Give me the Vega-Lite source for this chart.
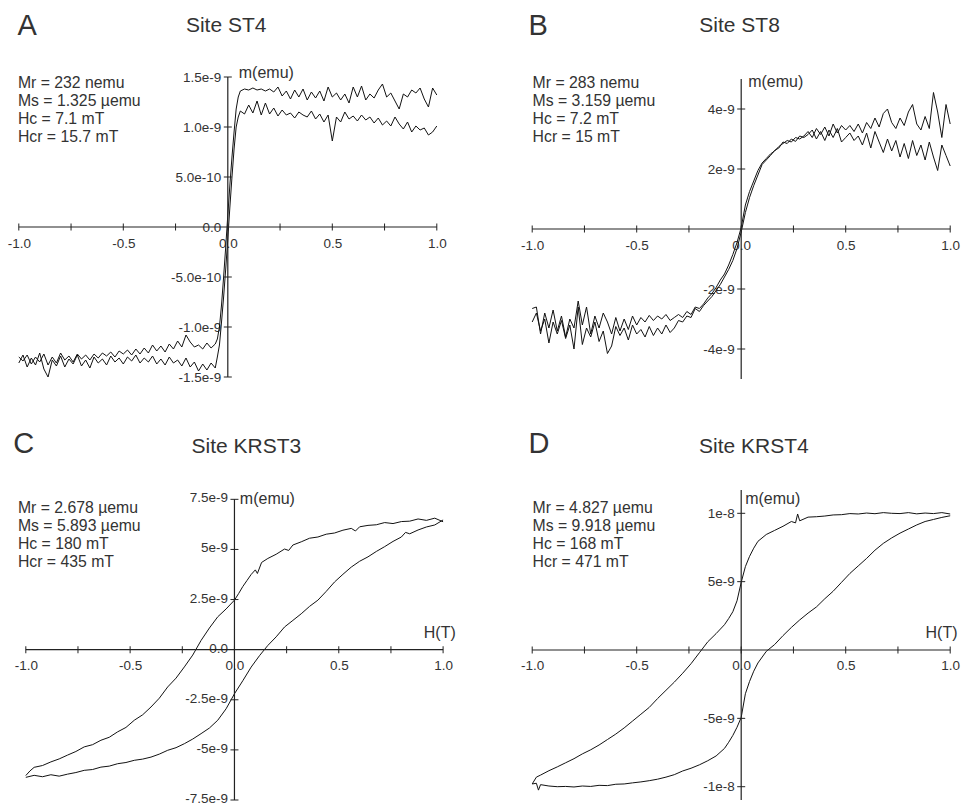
{
"$schema": "https://vega.github.io/schema/vega-lite/v6.json",
"background": "white",
"padding": {"left": 6.8, "top": 12, "right": 5, "bottom": 2},
"config": {
 "view": {"stroke": null},
 "locale": {"number": {"decimal": ".", "thousands": ",", "grouping": [3], "currency": ["$", ""], "minus": "-"}},
 "axis": {"grid": false, "domain": false, "ticks": false, "tickSize": 0, "labelFont": "Liberation Sans", "labelFontSize": 13.5, "labelColor": "#333", "labelFlush": false, "labelOverlap": false, "labelBound": false},
 "text": {"font": "Liberation Sans", "color": "#333"}
},
"datasets": {
 "A": [
{"b":"d","h":-1.00,"m":-1.30e-9},{"b":"d","h":-0.98,"m":-1.34e-9},{"b":"d","h":-0.96,"m":-1.28e-9},{"b":"d","h":-0.94,"m":-1.37e-9},{"b":"d","h":-0.92,"m":-1.30e-9},{"b":"d","h":-0.90,"m":-1.35e-9},{"b":"d","h":-0.88,"m":-1.27e-9},{"b":"d","h":-0.86,"m":-1.38e-9},{"b":"d","h":-0.84,"m":-1.30e-9},{"b":"d","h":-0.82,"m":-1.36e-9},{"b":"d","h":-0.80,"m":-1.26e-9},{"b":"d","h":-0.78,"m":-1.33e-9},{"b":"d","h":-0.76,"m":-1.29e-9},{"b":"d","h":-0.74,"m":-1.35e-9},{"b":"d","h":-0.72,"m":-1.27e-9},{"b":"d","h":-0.70,"m":-1.32e-9},{"b":"d","h":-0.68,"m":-1.28e-9},{"b":"d","h":-0.66,"m":-1.33e-9},{"b":"d","h":-0.64,"m":-1.27e-9},{"b":"d","h":-0.62,"m":-1.31e-9},{"b":"d","h":-0.60,"m":-1.26e-9},{"b":"d","h":-0.58,"m":-1.29e-9},{"b":"d","h":-0.56,"m":-1.25e-9},{"b":"d","h":-0.54,"m":-1.30e-9},{"b":"d","h":-0.52,"m":-1.24e-9},{"b":"d","h":-0.50,"m":-1.27e-9},{"b":"d","h":-0.48,"m":-1.23e-9},{"b":"d","h":-0.46,"m":-1.28e-9},{"b":"d","h":-0.44,"m":-1.22e-9},{"b":"d","h":-0.42,"m":-1.27e-9},{"b":"d","h":-0.40,"m":-1.21e-9},{"b":"d","h":-0.38,"m":-1.26e-9},{"b":"d","h":-0.36,"m":-1.18e-9},{"b":"d","h":-0.34,"m":-1.24e-9},{"b":"d","h":-0.32,"m":-1.19e-9},{"b":"d","h":-0.30,"m":-1.25e-9},{"b":"d","h":-0.28,"m":-1.17e-9},{"b":"d","h":-0.26,"m":-1.22e-9},{"b":"d","h":-0.24,"m":-1.14e-9},{"b":"d","h":-0.22,"m":-1.20e-9},{"b":"d","h":-0.20,"m":-1.08e-9},{"b":"d","h":-0.18,"m":-1.15e-9},{"b":"d","h":-0.16,"m":-1.20e-9},{"b":"d","h":-0.14,"m":-1.18e-9},{"b":"d","h":-0.12,"m":-1.22e-9},{"b":"d","h":-0.10,"m":-1.16e-9},{"b":"d","h":-0.08,"m":-1.21e-9},{"b":"d","h":-0.06,"m":-1.17e-9},{"b":"d","h":-0.05,"m":-1.12e-9},{"b":"d","h":-0.04,"m":-1.00e-9},{"b":"d","h":-0.03,"m":-0.78e-9},{"b":"d","h":-0.02,"m":-0.50e-9},{"b":"d","h":-0.01,"m":-0.20e-9},{"b":"d","h":0.00,"m":0.12e-9},{"b":"d","h":0.01,"m":0.42e-9},{"b":"d","h":0.02,"m":0.70e-9},{"b":"d","h":0.03,"m":0.95e-9},{"b":"d","h":0.04,"m":1.18e-9},{"b":"d","h":0.05,"m":1.30e-9},
{"b":"d","h":0.06,"m":1.36e-9},{"b":"d","h":0.08,"m":1.38e-9},{"b":"d","h":0.10,"m":1.37e-9},{"b":"d","h":0.12,"m":1.39e-9},{"b":"d","h":0.14,"m":1.37e-9},{"b":"d","h":0.16,"m":1.38e-9},{"b":"d","h":0.18,"m":1.36e-9},{"b":"d","h":0.20,"m":1.38e-9},{"b":"d","h":0.22,"m":1.35e-9},{"b":"d","h":0.24,"m":1.40e-9},{"b":"d","h":0.26,"m":1.31e-9},{"b":"d","h":0.28,"m":1.36e-9},{"b":"d","h":0.30,"m":1.28e-9},{"b":"d","h":0.32,"m":1.37e-9},{"b":"d","h":0.34,"m":1.30e-9},{"b":"d","h":0.36,"m":1.38e-9},{"b":"d","h":0.38,"m":1.27e-9},{"b":"d","h":0.40,"m":1.35e-9},{"b":"d","h":0.42,"m":1.29e-9},{"b":"d","h":0.44,"m":1.36e-9},{"b":"d","h":0.46,"m":1.26e-9},{"b":"d","h":0.48,"m":1.40e-9},{"b":"d","h":0.50,"m":1.30e-9},{"b":"d","h":0.52,"m":1.34e-9},{"b":"d","h":0.54,"m":1.27e-9},{"b":"d","h":0.56,"m":1.33e-9},{"b":"d","h":0.58,"m":1.24e-9},{"b":"d","h":0.60,"m":1.40e-9},{"b":"d","h":0.62,"m":1.30e-9},{"b":"d","h":0.64,"m":1.41e-9},{"b":"d","h":0.66,"m":1.27e-9},{"b":"d","h":0.68,"m":1.33e-9},{"b":"d","h":0.70,"m":1.29e-9},{"b":"d","h":0.72,"m":1.37e-9},{"b":"d","h":0.74,"m":1.43e-9},{"b":"d","h":0.76,"m":1.30e-9},{"b":"d","h":0.78,"m":1.34e-9},{"b":"d","h":0.80,"m":1.26e-9},{"b":"d","h":0.82,"m":1.18e-9},{"b":"d","h":0.84,"m":1.33e-9},{"b":"d","h":0.86,"m":1.30e-9},{"b":"d","h":0.88,"m":1.37e-9},{"b":"d","h":0.90,"m":1.34e-9},{"b":"d","h":0.92,"m":1.39e-9},{"b":"d","h":0.94,"m":1.28e-9},{"b":"d","h":0.96,"m":1.20e-9},{"b":"d","h":0.98,"m":1.39e-9},{"b":"d","h":1.00,"m":1.32e-9},
{"b":"a","h":-1.00,"m":-1.36e-9},{"b":"a","h":-0.98,"m":-1.28e-9},{"b":"a","h":-0.96,"m":-1.40e-9},{"b":"a","h":-0.94,"m":-1.31e-9},{"b":"a","h":-0.92,"m":-1.38e-9},{"b":"a","h":-0.90,"m":-1.26e-9},{"b":"a","h":-0.88,"m":-1.42e-9},{"b":"a","h":-0.86,"m":-1.50e-9},{"b":"a","h":-0.84,"m":-1.33e-9},{"b":"a","h":-0.82,"m":-1.39e-9},{"b":"a","h":-0.80,"m":-1.29e-9},{"b":"a","h":-0.78,"m":-1.40e-9},{"b":"a","h":-0.76,"m":-1.32e-9},{"b":"a","h":-0.74,"m":-1.37e-9},{"b":"a","h":-0.72,"m":-1.28e-9},{"b":"a","h":-0.70,"m":-1.39e-9},{"b":"a","h":-0.68,"m":-1.33e-9},{"b":"a","h":-0.66,"m":-1.41e-9},{"b":"a","h":-0.64,"m":-1.30e-9},{"b":"a","h":-0.62,"m":-1.36e-9},{"b":"a","h":-0.60,"m":-1.32e-9},{"b":"a","h":-0.58,"m":-1.38e-9},{"b":"a","h":-0.56,"m":-1.29e-9},{"b":"a","h":-0.54,"m":-1.35e-9},{"b":"a","h":-0.52,"m":-1.31e-9},{"b":"a","h":-0.50,"m":-1.37e-9},{"b":"a","h":-0.48,"m":-1.30e-9},{"b":"a","h":-0.46,"m":-1.34e-9},{"b":"a","h":-0.44,"m":-1.28e-9},{"b":"a","h":-0.42,"m":-1.36e-9},{"b":"a","h":-0.40,"m":-1.31e-9},{"b":"a","h":-0.38,"m":-1.35e-9},{"b":"a","h":-0.36,"m":-1.29e-9},{"b":"a","h":-0.34,"m":-1.37e-9},{"b":"a","h":-0.32,"m":-1.32e-9},{"b":"a","h":-0.30,"m":-1.38e-9},{"b":"a","h":-0.28,"m":-1.30e-9},{"b":"a","h":-0.26,"m":-1.36e-9},{"b":"a","h":-0.24,"m":-1.33e-9},{"b":"a","h":-0.22,"m":-1.39e-9},{"b":"a","h":-0.20,"m":-1.31e-9},{"b":"a","h":-0.18,"m":-1.40e-9},{"b":"a","h":-0.16,"m":-1.35e-9},{"b":"a","h":-0.14,"m":-1.44e-9},{"b":"a","h":-0.12,"m":-1.37e-9},{"b":"a","h":-0.10,"m":-1.43e-9},{"b":"a","h":-0.08,"m":-1.36e-9},{"b":"a","h":-0.06,"m":-1.41e-9},{"b":"a","h":-0.05,"m":-1.30e-9},{"b":"a","h":-0.04,"m":-1.18e-9},{"b":"a","h":-0.03,"m":-0.95e-9},{"b":"a","h":-0.02,"m":-0.70e-9},{"b":"a","h":-0.01,"m":-0.42e-9},{"b":"a","h":0.00,"m":-0.12e-9},{"b":"a","h":0.01,"m":0.20e-9},{"b":"a","h":0.02,"m":0.50e-9},{"b":"a","h":0.03,"m":0.78e-9},{"b":"a","h":0.04,"m":1.00e-9},{"b":"a","h":0.05,"m":1.10e-9},
{"b":"a","h":0.06,"m":1.16e-9},{"b":"a","h":0.08,"m":1.13e-9},{"b":"a","h":0.10,"m":1.22e-9},{"b":"a","h":0.12,"m":1.14e-9},{"b":"a","h":0.14,"m":1.26e-9},{"b":"a","h":0.16,"m":1.12e-9},{"b":"a","h":0.18,"m":1.24e-9},{"b":"a","h":0.20,"m":1.13e-9},{"b":"a","h":0.22,"m":1.19e-9},{"b":"a","h":0.24,"m":1.11e-9},{"b":"a","h":0.26,"m":1.17e-9},{"b":"a","h":0.28,"m":1.12e-9},{"b":"a","h":0.30,"m":1.14e-9},{"b":"a","h":0.32,"m":1.09e-9},{"b":"a","h":0.34,"m":1.15e-9},{"b":"a","h":0.36,"m":1.12e-9},{"b":"a","h":0.38,"m":1.10e-9},{"b":"a","h":0.40,"m":1.16e-9},{"b":"a","h":0.42,"m":1.08e-9},{"b":"a","h":0.44,"m":1.13e-9},{"b":"a","h":0.46,"m":1.05e-9},{"b":"a","h":0.48,"m":1.12e-9},{"b":"a","h":0.50,"m":0.86e-9},{"b":"a","h":0.52,"m":1.10e-9},{"b":"a","h":0.54,"m":1.05e-9},{"b":"a","h":0.56,"m":1.15e-9},{"b":"a","h":0.58,"m":1.08e-9},{"b":"a","h":0.60,"m":1.11e-9},{"b":"a","h":0.62,"m":1.06e-9},{"b":"a","h":0.64,"m":1.12e-9},{"b":"a","h":0.66,"m":1.07e-9},{"b":"a","h":0.68,"m":1.10e-9},{"b":"a","h":0.70,"m":1.04e-9},{"b":"a","h":0.72,"m":1.09e-9},{"b":"a","h":0.74,"m":1.02e-9},{"b":"a","h":0.76,"m":1.06e-9},{"b":"a","h":0.78,"m":1.01e-9},{"b":"a","h":0.80,"m":1.10e-9},{"b":"a","h":0.82,"m":1.03e-9},{"b":"a","h":0.84,"m":0.98e-9},{"b":"a","h":0.86,"m":1.05e-9},{"b":"a","h":0.88,"m":0.95e-9},{"b":"a","h":0.90,"m":1.01e-9},{"b":"a","h":0.92,"m":0.97e-9},{"b":"a","h":0.94,"m":0.99e-9},{"b":"a","h":0.96,"m":0.92e-9},{"b":"a","h":0.98,"m":0.95e-9},{"b":"a","h":1.00,"m":1.01e-9}
 ],
 "B": [
{"b":"d","h":-1.00,"m":-2.65e-9},{"b":"d","h":-0.98,"m":-2.60e-9},{"b":"d","h":-0.96,"m":-3.50e-9},{"b":"d","h":-0.94,"m":-2.80e-9},{"b":"d","h":-0.92,"m":-3.30e-9},{"b":"d","h":-0.90,"m":-2.70e-9},{"b":"d","h":-0.88,"m":-3.40e-9},{"b":"d","h":-0.86,"m":-2.90e-9},{"b":"d","h":-0.84,"m":-3.60e-9},{"b":"d","h":-0.82,"m":-3.00e-9},{"b":"d","h":-0.80,"m":-3.30e-9},{"b":"d","h":-0.78,"m":-2.40e-9},{"b":"d","h":-0.76,"m":-3.20e-9},{"b":"d","h":-0.74,"m":-2.60e-9},{"b":"d","h":-0.72,"m":-3.50e-9},{"b":"d","h":-0.70,"m":-2.90e-9},{"b":"d","h":-0.68,"m":-3.30e-9},{"b":"d","h":-0.66,"m":-2.80e-9},{"b":"d","h":-0.64,"m":-3.10e-9},{"b":"d","h":-0.62,"m":-3.50e-9},{"b":"d","h":-0.60,"m":-2.95e-9},{"b":"d","h":-0.58,"m":-3.40e-9},{"b":"d","h":-0.56,"m":-3.00e-9},{"b":"d","h":-0.54,"m":-3.35e-9},{"b":"d","h":-0.52,"m":-2.90e-9},{"b":"d","h":-0.50,"m":-3.20e-9},{"b":"d","h":-0.48,"m":-2.95e-9},{"b":"d","h":-0.46,"m":-3.10e-9},{"b":"d","h":-0.44,"m":-2.88e-9},{"b":"d","h":-0.42,"m":-3.05e-9},{"b":"d","h":-0.40,"m":-2.90e-9},{"b":"d","h":-0.38,"m":-3.00e-9},{"b":"d","h":-0.36,"m":-2.85e-9},{"b":"d","h":-0.34,"m":-3.05e-9},{"b":"d","h":-0.32,"m":-2.95e-9},{"b":"d","h":-0.30,"m":-2.85e-9},{"b":"d","h":-0.28,"m":-2.95e-9},{"b":"d","h":-0.26,"m":-2.75e-9},{"b":"d","h":-0.24,"m":-2.85e-9},{"b":"d","h":-0.22,"m":-2.60e-9},{"b":"d","h":-0.20,"m":-2.65e-9},{"b":"d","h":-0.18,"m":-2.50e-9},{"b":"d","h":-0.16,"m":-2.30e-9},{"b":"d","h":-0.14,"m":-2.15e-9},{"b":"d","h":-0.12,"m":-1.95e-9},{"b":"d","h":-0.10,"m":-1.70e-9},{"b":"d","h":-0.08,"m":-1.50e-9},{"b":"d","h":-0.06,"m":-1.20e-9},{"b":"d","h":-0.04,"m":-0.85e-9},{"b":"d","h":-0.02,"m":-0.45e-9},{"b":"d","h":0.00,"m":0.05e-9},{"b":"d","h":0.02,"m":0.80e-9},{"b":"d","h":0.04,"m":1.25e-9},{"b":"d","h":0.06,"m":1.60e-9},{"b":"d","h":0.08,"m":1.95e-9},{"b":"d","h":0.10,"m":2.20e-9},{"b":"d","h":0.12,"m":2.35e-9},{"b":"d","h":0.14,"m":2.50e-9},{"b":"d","h":0.16,"m":2.60e-9},{"b":"d","h":0.18,"m":2.75e-9},{"b":"d","h":0.20,"m":2.85e-9},{"b":"d","h":0.22,"m":2.95e-9},{"b":"d","h":0.24,"m":2.90e-9},{"b":"d","h":0.26,"m":3.05e-9},{"b":"d","h":0.28,"m":3.00e-9},{"b":"d","h":0.30,"m":3.10e-9},{"b":"d","h":0.32,"m":3.25e-9},{"b":"d","h":0.34,"m":3.05e-9},{"b":"d","h":0.36,"m":3.35e-9},{"b":"d","h":0.38,"m":3.15e-9},{"b":"d","h":0.40,"m":3.40e-9},{"b":"d","h":0.42,"m":3.10e-9},{"b":"d","h":0.44,"m":3.50e-9},{"b":"d","h":0.46,"m":3.20e-9},{"b":"d","h":0.48,"m":3.45e-9},{"b":"d","h":0.50,"m":3.30e-9},{"b":"d","h":0.52,"m":3.45e-9},{"b":"d","h":0.54,"m":3.25e-9},{"b":"d","h":0.56,"m":3.50e-9},{"b":"d","h":0.58,"m":3.20e-9},{"b":"d","h":0.60,"m":3.55e-9},{"b":"d","h":0.62,"m":3.35e-9},{"b":"d","h":0.64,"m":3.70e-9},{"b":"d","h":0.66,"m":3.40e-9},{"b":"d","h":0.68,"m":3.85e-9},{"b":"d","h":0.70,"m":4.00e-9},{"b":"d","h":0.72,"m":3.55e-9},{"b":"d","h":0.74,"m":3.35e-9},{"b":"d","h":0.76,"m":3.70e-9},{"b":"d","h":0.78,"m":3.45e-9},{"b":"d","h":0.80,"m":3.90e-9},{"b":"d","h":0.82,"m":4.15e-9},{"b":"d","h":0.84,"m":3.50e-9},{"b":"d","h":0.86,"m":3.30e-9},{"b":"d","h":0.88,"m":3.75e-9},{"b":"d","h":0.90,"m":3.35e-9},{"b":"d","h":0.92,"m":4.55e-9},{"b":"d","h":0.94,"m":3.90e-9},{"b":"d","h":0.96,"m":3.05e-9},{"b":"d","h":0.98,"m":4.15e-9},{"b":"d","h":1.00,"m":3.50e-9},
{"b":"a","h":-1.00,"m":-3.10e-9},{"b":"a","h":-0.98,"m":-2.80e-9},{"b":"a","h":-0.96,"m":-3.40e-9},{"b":"a","h":-0.94,"m":-3.00e-9},{"b":"a","h":-0.92,"m":-3.80e-9},{"b":"a","h":-0.90,"m":-3.10e-9},{"b":"a","h":-0.88,"m":-3.50e-9},{"b":"a","h":-0.86,"m":-3.05e-9},{"b":"a","h":-0.84,"m":-3.65e-9},{"b":"a","h":-0.82,"m":-3.20e-9},{"b":"a","h":-0.80,"m":-4.00e-9},{"b":"a","h":-0.78,"m":-2.60e-9},{"b":"a","h":-0.76,"m":-3.85e-9},{"b":"a","h":-0.74,"m":-3.30e-9},{"b":"a","h":-0.72,"m":-3.60e-9},{"b":"a","h":-0.70,"m":-3.10e-9},{"b":"a","h":-0.68,"m":-3.75e-9},{"b":"a","h":-0.66,"m":-3.40e-9},{"b":"a","h":-0.64,"m":-4.15e-9},{"b":"a","h":-0.62,"m":-3.90e-9},{"b":"a","h":-0.60,"m":-3.25e-9},{"b":"a","h":-0.58,"m":-3.55e-9},{"b":"a","h":-0.56,"m":-3.30e-9},{"b":"a","h":-0.54,"m":-3.70e-9},{"b":"a","h":-0.52,"m":-3.20e-9},{"b":"a","h":-0.50,"m":-3.50e-9},{"b":"a","h":-0.48,"m":-3.35e-9},{"b":"a","h":-0.46,"m":-3.60e-9},{"b":"a","h":-0.44,"m":-3.25e-9},{"b":"a","h":-0.42,"m":-3.55e-9},{"b":"a","h":-0.40,"m":-3.30e-9},{"b":"a","h":-0.38,"m":-3.50e-9},{"b":"a","h":-0.36,"m":-3.20e-9},{"b":"a","h":-0.34,"m":-3.45e-9},{"b":"a","h":-0.32,"m":-3.30e-9},{"b":"a","h":-0.30,"m":-3.05e-9},{"b":"a","h":-0.28,"m":-3.10e-9},{"b":"a","h":-0.26,"m":-2.90e-9},{"b":"a","h":-0.24,"m":-2.95e-9},{"b":"a","h":-0.22,"m":-2.65e-9},{"b":"a","h":-0.20,"m":-2.75e-9},{"b":"a","h":-0.18,"m":-2.55e-9},{"b":"a","h":-0.16,"m":-2.40e-9},{"b":"a","h":-0.14,"m":-2.25e-9},{"b":"a","h":-0.12,"m":-2.05e-9},{"b":"a","h":-0.10,"m":-1.85e-9},{"b":"a","h":-0.08,"m":-1.60e-9},{"b":"a","h":-0.06,"m":-1.35e-9},{"b":"a","h":-0.04,"m":-1.05e-9},{"b":"a","h":-0.02,"m":-0.65e-9},{"b":"a","h":0.00,"m":-0.10e-9},{"b":"a","h":0.02,"m":0.55e-9},{"b":"a","h":0.04,"m":1.05e-9},{"b":"a","h":0.06,"m":1.45e-9},{"b":"a","h":0.08,"m":1.80e-9},{"b":"a","h":0.10,"m":2.15e-9},{"b":"a","h":0.12,"m":2.30e-9},{"b":"a","h":0.14,"m":2.45e-9},{"b":"a","h":0.16,"m":2.62e-9},{"b":"a","h":0.18,"m":2.70e-9},{"b":"a","h":0.20,"m":2.90e-9},{"b":"a","h":0.22,"m":2.85e-9},{"b":"a","h":0.24,"m":3.00e-9},{"b":"a","h":0.26,"m":2.92e-9},{"b":"a","h":0.28,"m":3.10e-9},{"b":"a","h":0.30,"m":3.05e-9},{"b":"a","h":0.32,"m":3.15e-9},{"b":"a","h":0.34,"m":3.30e-9},{"b":"a","h":0.36,"m":3.00e-9},{"b":"a","h":0.38,"m":3.25e-9},{"b":"a","h":0.40,"m":2.95e-9},{"b":"a","h":0.42,"m":3.30e-9},{"b":"a","h":0.44,"m":3.05e-9},{"b":"a","h":0.46,"m":3.35e-9},{"b":"a","h":0.48,"m":2.90e-9},{"b":"a","h":0.50,"m":3.05e-9},{"b":"a","h":0.52,"m":3.20e-9},{"b":"a","h":0.54,"m":2.95e-9},{"b":"a","h":0.56,"m":3.10e-9},{"b":"a","h":0.58,"m":2.80e-9},{"b":"a","h":0.60,"m":3.20e-9},{"b":"a","h":0.62,"m":2.70e-9},{"b":"a","h":0.64,"m":3.25e-9},{"b":"a","h":0.66,"m":2.90e-9},{"b":"a","h":0.68,"m":2.55e-9},{"b":"a","h":0.70,"m":3.00e-9},{"b":"a","h":0.72,"m":2.60e-9},{"b":"a","h":0.74,"m":2.95e-9},{"b":"a","h":0.76,"m":2.40e-9},{"b":"a","h":0.78,"m":2.85e-9},{"b":"a","h":0.80,"m":2.35e-9},{"b":"a","h":0.82,"m":2.95e-9},{"b":"a","h":0.84,"m":2.45e-9},{"b":"a","h":0.86,"m":2.80e-9},{"b":"a","h":0.88,"m":2.30e-9},{"b":"a","h":0.90,"m":2.90e-9},{"b":"a","h":0.92,"m":2.40e-9},{"b":"a","h":0.94,"m":1.95e-9},{"b":"a","h":0.96,"m":2.80e-9},{"b":"a","h":0.98,"m":2.45e-9},{"b":"a","h":1.00,"m":2.10e-9}
 ],
 "C": [
{"b":"d","h":-1.00,"m":-6.28e-9},{"b":"d","h":-0.98,"m":-6.05e-9},{"b":"d","h":-0.96,"m":-5.87e-9},{"b":"d","h":-0.92,"m":-5.78e-9},{"b":"d","h":-0.88,"m":-5.60e-9},{"b":"d","h":-0.84,"m":-5.45e-9},{"b":"d","h":-0.80,"m":-5.26e-9},{"b":"d","h":-0.76,"m":-5.08e-9},{"b":"d","h":-0.72,"m":-4.85e-9},{"b":"d","h":-0.68,"m":-4.74e-9},{"b":"d","h":-0.64,"m":-4.52e-9},{"b":"d","h":-0.60,"m":-4.37e-9},{"b":"d","h":-0.56,"m":-4.10e-9},{"b":"d","h":-0.52,"m":-3.88e-9},{"b":"d","h":-0.48,"m":-3.52e-9},{"b":"d","h":-0.44,"m":-3.25e-9},{"b":"d","h":-0.40,"m":-2.86e-9},{"b":"d","h":-0.36,"m":-2.42e-9},{"b":"d","h":-0.32,"m":-1.86e-9},{"b":"d","h":-0.28,"m":-1.42e-9},{"b":"d","h":-0.24,"m":-0.86e-9},{"b":"d","h":-0.20,"m":-0.27e-9},{"b":"d","h":-0.16,"m":0.46e-9},{"b":"d","h":-0.12,"m":1.08e-9},{"b":"d","h":-0.08,"m":1.64e-9},{"b":"d","h":-0.04,"m":2.03e-9},{"b":"d","h":0.00,"m":2.47e-9},{"b":"d","h":0.02,"m":2.80e-9},{"b":"d","h":0.04,"m":3.15e-9},{"b":"d","h":0.06,"m":3.45e-9},{"b":"d","h":0.08,"m":3.75e-9},{"b":"d","h":0.10,"m":3.98e-9},{"b":"d","h":0.11,"m":3.80e-9},{"b":"d","h":0.13,"m":4.35e-9},{"b":"d","h":0.16,"m":4.55e-9},{"b":"d","h":0.20,"m":4.76e-9},{"b":"d","h":0.24,"m":5.02e-9},{"b":"d","h":0.26,"m":4.95e-9},{"b":"d","h":0.28,"m":5.22e-9},{"b":"d","h":0.32,"m":5.38e-9},{"b":"d","h":0.36,"m":5.56e-9},{"b":"d","h":0.40,"m":5.62e-9},{"b":"d","h":0.44,"m":5.76e-9},{"b":"d","h":0.48,"m":5.82e-9},{"b":"d","h":0.52,"m":5.96e-9},{"b":"d","h":0.56,"m":6.05e-9},{"b":"d","h":0.58,"m":5.92e-9},{"b":"d","h":0.60,"m":6.13e-9},{"b":"d","h":0.64,"m":6.20e-9},{"b":"d","h":0.68,"m":6.23e-9},{"b":"d","h":0.72,"m":6.34e-9},{"b":"d","h":0.76,"m":6.29e-9},{"b":"d","h":0.80,"m":6.39e-9},{"b":"d","h":0.84,"m":6.41e-9},{"b":"d","h":0.88,"m":6.52e-9},{"b":"d","h":0.92,"m":6.45e-9},{"b":"d","h":0.96,"m":6.56e-9},{"b":"d","h":1.00,"m":6.38e-9},
{"b":"a","h":-1.00,"m":-6.37e-9},{"b":"a","h":-0.96,"m":-6.27e-9},{"b":"a","h":-0.92,"m":-6.34e-9},{"b":"a","h":-0.88,"m":-6.24e-9},{"b":"a","h":-0.84,"m":-6.31e-9},{"b":"a","h":-0.80,"m":-6.21e-9},{"b":"a","h":-0.76,"m":-6.13e-9},{"b":"a","h":-0.72,"m":-6.02e-9},{"b":"a","h":-0.68,"m":-5.98e-9},{"b":"a","h":-0.64,"m":-5.86e-9},{"b":"a","h":-0.60,"m":-5.81e-9},{"b":"a","h":-0.56,"m":-5.69e-9},{"b":"a","h":-0.52,"m":-5.63e-9},{"b":"a","h":-0.48,"m":-5.52e-9},{"b":"a","h":-0.44,"m":-5.46e-9},{"b":"a","h":-0.40,"m":-5.36e-9},{"b":"a","h":-0.36,"m":-5.21e-9},{"b":"a","h":-0.32,"m":-5.02e-9},{"b":"a","h":-0.28,"m":-4.89e-9},{"b":"a","h":-0.24,"m":-4.69e-9},{"b":"a","h":-0.20,"m":-4.46e-9},{"b":"a","h":-0.16,"m":-4.19e-9},{"b":"a","h":-0.12,"m":-3.91e-9},{"b":"a","h":-0.08,"m":-3.52e-9},{"b":"a","h":-0.04,"m":-2.95e-9},{"b":"a","h":0.00,"m":-2.20e-9},{"b":"a","h":0.04,"m":-1.55e-9},{"b":"a","h":0.08,"m":-0.87e-9},{"b":"a","h":0.12,"m":-0.30e-9},{"b":"a","h":0.16,"m":0.21e-9},{"b":"a","h":0.20,"m":0.64e-9},{"b":"a","h":0.24,"m":1.13e-9},{"b":"a","h":0.28,"m":1.46e-9},{"b":"a","h":0.32,"m":1.79e-9},{"b":"a","h":0.36,"m":2.16e-9},{"b":"a","h":0.40,"m":2.47e-9},{"b":"a","h":0.44,"m":2.91e-9},{"b":"a","h":0.48,"m":3.38e-9},{"b":"a","h":0.52,"m":3.76e-9},{"b":"a","h":0.56,"m":4.12e-9},{"b":"a","h":0.60,"m":4.41e-9},{"b":"a","h":0.64,"m":4.63e-9},{"b":"a","h":0.68,"m":4.90e-9},{"b":"a","h":0.72,"m":5.14e-9},{"b":"a","h":0.76,"m":5.40e-9},{"b":"a","h":0.80,"m":5.62e-9},{"b":"a","h":0.82,"m":5.85e-9},{"b":"a","h":0.84,"m":5.78e-9},{"b":"a","h":0.88,"m":5.97e-9},{"b":"a","h":0.92,"m":6.12e-9},{"b":"a","h":0.96,"m":6.22e-9},{"b":"a","h":1.00,"m":6.47e-9}
 ],
 "D": [
{"b":"d","h":-1.00,"m":-9.80e-9},{"b":"d","h":-0.98,"m":-9.30e-9},{"b":"d","h":-0.96,"m":-9.15e-9},{"b":"d","h":-0.92,"m":-8.83e-9},{"b":"d","h":-0.88,"m":-8.55e-9},{"b":"d","h":-0.84,"m":-8.25e-9},{"b":"d","h":-0.80,"m":-7.95e-9},{"b":"d","h":-0.76,"m":-7.60e-9},{"b":"d","h":-0.72,"m":-7.30e-9},{"b":"d","h":-0.68,"m":-6.95e-9},{"b":"d","h":-0.64,"m":-6.55e-9},{"b":"d","h":-0.60,"m":-6.15e-9},{"b":"d","h":-0.56,"m":-5.70e-9},{"b":"d","h":-0.52,"m":-5.20e-9},{"b":"d","h":-0.48,"m":-4.70e-9},{"b":"d","h":-0.44,"m":-4.20e-9},{"b":"d","h":-0.40,"m":-3.55e-9},{"b":"d","h":-0.36,"m":-2.95e-9},{"b":"d","h":-0.32,"m":-2.35e-9},{"b":"d","h":-0.28,"m":-1.70e-9},{"b":"d","h":-0.24,"m":-1.00e-9},{"b":"d","h":-0.20,"m":-0.20e-9},{"b":"d","h":-0.16,"m":0.60e-9},{"b":"d","h":-0.12,"m":1.20e-9},{"b":"d","h":-0.08,"m":1.85e-9},{"b":"d","h":-0.06,"m":2.30e-9},{"b":"d","h":-0.04,"m":2.80e-9},{"b":"d","h":-0.02,"m":3.60e-9},{"b":"d","h":0.00,"m":4.95e-9},{"b":"d","h":0.02,"m":6.10e-9},{"b":"d","h":0.04,"m":6.85e-9},{"b":"d","h":0.06,"m":7.45e-9},{"b":"d","h":0.08,"m":7.95e-9},{"b":"d","h":0.12,"m":8.45e-9},{"b":"d","h":0.16,"m":8.75e-9},{"b":"d","h":0.20,"m":9.05e-9},{"b":"d","h":0.24,"m":9.40e-9},{"b":"d","h":0.26,"m":9.30e-9},{"b":"d","h":0.27,"m":9.95e-9},{"b":"d","h":0.28,"m":9.45e-9},{"b":"d","h":0.32,"m":9.72e-9},{"b":"d","h":0.36,"m":9.75e-9},{"b":"d","h":0.40,"m":9.80e-9},{"b":"d","h":0.44,"m":9.88e-9},{"b":"d","h":0.48,"m":9.90e-9},{"b":"d","h":0.52,"m":9.98e-9},{"b":"d","h":0.56,"m":9.95e-9},{"b":"d","h":0.60,"m":10.02e-9},{"b":"d","h":0.64,"m":9.97e-9},{"b":"d","h":0.68,"m":10.05e-9},{"b":"d","h":0.72,"m":10.00e-9},{"b":"d","h":0.76,"m":9.98e-9},{"b":"d","h":0.80,"m":10.05e-9},{"b":"d","h":0.84,"m":9.96e-9},{"b":"d","h":0.88,"m":10.02e-9},{"b":"d","h":0.92,"m":9.98e-9},{"b":"d","h":0.96,"m":10.05e-9},{"b":"d","h":1.00,"m":9.95e-9},
{"b":"a","h":-1.00,"m":-9.80e-9},{"b":"a","h":-0.98,"m":-9.75e-9},{"b":"a","h":-0.97,"m":-10.25e-9},{"b":"a","h":-0.96,"m":-9.85e-9},{"b":"a","h":-0.92,"m":-9.95e-9},{"b":"a","h":-0.88,"m":-10.00e-9},{"b":"a","h":-0.84,"m":-9.98e-9},{"b":"a","h":-0.80,"m":-10.02e-9},{"b":"a","h":-0.76,"m":-9.95e-9},{"b":"a","h":-0.72,"m":-9.98e-9},{"b":"a","h":-0.68,"m":-9.90e-9},{"b":"a","h":-0.64,"m":-9.92e-9},{"b":"a","h":-0.60,"m":-9.82e-9},{"b":"a","h":-0.56,"m":-9.80e-9},{"b":"a","h":-0.52,"m":-9.72e-9},{"b":"a","h":-0.48,"m":-9.65e-9},{"b":"a","h":-0.44,"m":-9.56e-9},{"b":"a","h":-0.40,"m":-9.45e-9},{"b":"a","h":-0.36,"m":-9.30e-9},{"b":"a","h":-0.32,"m":-9.12e-9},{"b":"a","h":-0.28,"m":-8.85e-9},{"b":"a","h":-0.24,"m":-8.65e-9},{"b":"a","h":-0.20,"m":-8.40e-9},{"b":"a","h":-0.16,"m":-8.10e-9},{"b":"a","h":-0.12,"m":-7.75e-9},{"b":"a","h":-0.08,"m":-7.20e-9},{"b":"a","h":-0.06,"m":-6.75e-9},{"b":"a","h":-0.04,"m":-6.25e-9},{"b":"a","h":-0.02,"m":-5.65e-9},{"b":"a","h":0.00,"m":-4.93e-9},{"b":"a","h":0.02,"m":-3.20e-9},{"b":"a","h":0.04,"m":-2.30e-9},{"b":"a","h":0.06,"m":-1.55e-9},{"b":"a","h":0.08,"m":-0.95e-9},{"b":"a","h":0.12,"m":-0.10e-9},{"b":"a","h":0.16,"m":0.40e-9},{"b":"a","h":0.20,"m":1.05e-9},{"b":"a","h":0.24,"m":1.65e-9},{"b":"a","h":0.28,"m":2.20e-9},{"b":"a","h":0.32,"m":2.70e-9},{"b":"a","h":0.36,"m":3.15e-9},{"b":"a","h":0.40,"m":3.75e-9},{"b":"a","h":0.44,"m":4.30e-9},{"b":"a","h":0.48,"m":4.95e-9},{"b":"a","h":0.52,"m":5.60e-9},{"b":"a","h":0.56,"m":6.15e-9},{"b":"a","h":0.60,"m":6.70e-9},{"b":"a","h":0.64,"m":7.30e-9},{"b":"a","h":0.68,"m":7.80e-9},{"b":"a","h":0.72,"m":8.20e-9},{"b":"a","h":0.76,"m":8.55e-9},{"b":"a","h":0.80,"m":8.85e-9},{"b":"a","h":0.84,"m":9.15e-9},{"b":"a","h":0.88,"m":9.40e-9},{"b":"a","h":0.92,"m":9.55e-9},{"b":"a","h":0.96,"m":9.70e-9},{"b":"a","h":1.00,"m":9.82e-9}
 ]
},
"columns": 2,
"spacing": {"row": 111, "column": 88.4},
"bounds": "flush",
"concat": [
 {"width": 418, "height": 300, "layer": [
  {"data": {"name": "A"}, "mark": {"type": "line", "color": "#111", "strokeWidth": 1},
   "encoding": {
    "x": {"field": "h", "type": "quantitative", "scale": {"domain": [-1, 1], "nice": false, "zero": false},
          "axis": {"orient": "bottom", "title": null, "offset": -150, "values": [-1, -0.5, 0, 0.5, 1], "format": ".1f", "labelPadding": 9}},
    "y": {"field": "m", "type": "quantitative", "scale": {"domain": [-1.5e-9, 1.5e-9], "nice": false, "zero": false},
          "axis": {"orient": "left", "title": null, "offset": -209, "values": [-1.5e-9, -1e-9, -5e-10, 0, 5e-10, 1e-9, 1.5e-9], "labelExpr": "datum.value == 0 ? '0.0' : format(datum.value, '.1e')", "labelPadding": 7}},
    "detail": {"field": "b"}}},
  {"data": {"values": [{}]}, "mark": {"type": "rule", "color": "#222", "strokeWidth": 1.2},
   "encoding": {"x": {"datum": -1, "type": "quantitative"}, "x2": {"datum": 1}, "y": {"datum": 0, "type": "quantitative"}}},
  {"data": {"values": [{}]}, "mark": {"type": "rule", "color": "#222", "strokeWidth": 1.2},
   "encoding": {"x": {"datum": 0, "type": "quantitative"}, "y": {"datum": -1.5e-9, "type": "quantitative"}, "y2": {"datum": 1.5e-9}}},
  {"data": {"values": [{"h": -1}, {"h": -0.75}, {"h": -0.5}, {"h": -0.25}, {"h": 0}, {"h": 0.25}, {"h": 0.5}, {"h": 0.75}, {"h": 1}]},
   "mark": {"type": "tick", "orient": "vertical", "size": 7, "thickness": 1, "color": "#222", "opacity": 1},
   "encoding": {"x": {"field": "h", "type": "quantitative"}, "y": {"datum": 0, "type": "quantitative"}}},
  {"data": {"values": [{"m": -1.5e-9}, {"m": -1e-9}, {"m": -5e-10}, {"m": 5e-10}, {"m": 1e-9}, {"m": 1.5e-9}]},
   "mark": {"type": "tick", "orient": "horizontal", "size": 8, "thickness": 1, "color": "#222", "opacity": 1},
   "encoding": {"y": {"field": "m", "type": "quantitative"}, "x": {"datum": 0, "type": "quantitative"}}},
  {"data": {"values": [{}]}, "mark": {"type": "text", "text": "A", "fontSize": 29, "align": "left", "baseline": "alphabetic", "dx": -1.3, "dy": -42},
   "encoding": {"x": {"datum": -1, "type": "quantitative"}, "y": {"datum": 1.5e-9, "type": "quantitative"}}},
  {"data": {"values": [{}]}, "mark": {"type": "text", "text": "Site ST4", "fontSize": 21, "align": "center", "baseline": "alphabetic", "dx": -1.6, "dy": -45.3},
   "encoding": {"x": {"datum": 0, "type": "quantitative"}, "y": {"datum": 1.5e-9, "type": "quantitative"}}},
  {"data": {"values": [{}]}, "mark": {"type": "text", "text": ["Mr = 232 nemu", "Ms = 1.325 µemu", "Hc = 7.1 mT", "Hcr = 15.7 mT"], "fontSize": 15.8, "lineHeight": 17.8, "align": "left", "baseline": "alphabetic", "dx": -0.9, "dy": 11.3},
   "encoding": {"x": {"datum": -1, "type": "quantitative"}, "y": {"datum": 1.5e-9, "type": "quantitative"}}},
  {"data": {"values": [{}]}, "mark": {"type": "text", "text": "m(emu)", "fontSize": 16, "align": "left", "baseline": "alphabetic", "dx": 11, "dy": 1},
   "encoding": {"x": {"datum": 0, "type": "quantitative"}, "y": {"datum": 1.5e-9, "type": "quantitative"}}}
 ]},
 {"width": 418, "height": 302, "layer": [
  {"data": {"name": "B"}, "mark": {"type": "line", "color": "#111", "strokeWidth": 1},
   "encoding": {
    "x": {"field": "h", "type": "quantitative", "scale": {"domain": [-1, 1], "nice": false, "zero": false},
          "axis": {"orient": "bottom", "title": null, "offset": -150, "values": [-1, -0.5, 0, 0.5, 1], "format": ".1f", "labelPadding": 9}},
    "y": {"field": "m", "type": "quantitative", "scale": {"domain": [-5e-9, 5.0667e-9], "nice": false, "zero": false},
          "axis": {"orient": "left", "title": null, "offset": -209, "values": [-4e-9, -2e-9, 2e-9, 4e-9], "labelExpr": "format(datum.value, '.0e')", "labelPadding": 7}},
    "detail": {"field": "b"}}},
  {"data": {"values": [{}]}, "mark": {"type": "rule", "color": "#222", "strokeWidth": 1.2},
   "encoding": {"x": {"datum": -1, "type": "quantitative"}, "x2": {"datum": 1}, "y": {"datum": 0, "type": "quantitative"}}},
  {"data": {"values": [{}]}, "mark": {"type": "rule", "color": "#222", "strokeWidth": 1.2},
   "encoding": {"x": {"datum": 0, "type": "quantitative"}, "y": {"datum": -5e-9, "type": "quantitative"}, "y2": {"datum": 5e-9}}},
  {"data": {"values": [{"h": -1}, {"h": -0.75}, {"h": -0.5}, {"h": -0.25}, {"h": 0}, {"h": 0.25}, {"h": 0.5}, {"h": 0.75}, {"h": 1}]},
   "mark": {"type": "tick", "orient": "vertical", "size": 7, "thickness": 1, "color": "#222", "opacity": 1},
   "encoding": {"x": {"field": "h", "type": "quantitative"}, "y": {"datum": 0, "type": "quantitative"}}},
  {"data": {"values": [{"m": -4e-9}, {"m": -2e-9}, {"m": 2e-9}, {"m": 4e-9}]},
   "mark": {"type": "tick", "orient": "horizontal", "size": 8, "thickness": 1, "color": "#222", "opacity": 1},
   "encoding": {"y": {"field": "m", "type": "quantitative"}, "x": {"datum": 0, "type": "quantitative"}}},
  {"data": {"values": [{}]}, "mark": {"type": "text", "text": "B", "fontSize": 29, "align": "left", "baseline": "alphabetic", "dx": -3.7, "dy": -44},
   "encoding": {"x": {"datum": -1, "type": "quantitative"}, "y": {"datum": 5e-9, "type": "quantitative"}}},
  {"data": {"values": [{}]}, "mark": {"type": "text", "text": "Site ST8", "fontSize": 21, "align": "center", "baseline": "alphabetic", "dx": -1.6, "dy": -47.3},
   "encoding": {"x": {"datum": 0, "type": "quantitative"}, "y": {"datum": 5e-9, "type": "quantitative"}}},
  {"data": {"values": [{}]}, "mark": {"type": "text", "text": ["Mr = 283 nemu", "Ms = 3.159 µemu", "Hc = 7.2 mT", "Hcr = 15 mT"], "fontSize": 15.8, "lineHeight": 17.8, "align": "left", "baseline": "alphabetic", "dx": 0.4, "dy": 9.3},
   "encoding": {"x": {"datum": -1, "type": "quantitative"}, "y": {"datum": 5e-9, "type": "quantitative"}}},
  {"data": {"values": [{}]}, "mark": {"type": "text", "text": "m(emu)", "fontSize": 16, "align": "left", "baseline": "alphabetic", "dx": 7, "dy": 8.3},
   "encoding": {"x": {"datum": 0, "type": "quantitative"}, "y": {"datum": 5e-9, "type": "quantitative"}}}
 ]},
 {"width": 424.3, "height": 310, "layer": [
  {"data": {"name": "C"}, "mark": {"type": "line", "color": "#111", "strokeWidth": 1},
   "encoding": {
    "x": {"field": "h", "type": "quantitative", "scale": {"domain": [-1.0336, 1], "nice": false, "zero": false},
          "axis": {"orient": "bottom", "title": null, "offset": -150.3, "values": [-1, -0.5, 0, 0.5, 1], "format": ".1f", "labelPadding": 9}},
    "y": {"field": "m", "type": "quantitative", "scale": {"domain": [-7.5e-9, 7.965e-9], "nice": false, "zero": false},
          "axis": {"orient": "left", "title": null, "offset": -215.7, "values": [-7.5e-9, -5e-9, -2.5e-9, 0, 2.5e-9, 5e-9, 7.5e-9], "labelExpr": "datum.value == 0 ? '0.0' : format(datum.value, '~e')", "labelPadding": 7, "labelOffset": -1.5}},
    "detail": {"field": "b"}}},
  {"data": {"values": [{}]}, "mark": {"type": "rule", "color": "#222", "strokeWidth": 1.2},
   "encoding": {"x": {"datum": -1, "type": "quantitative"}, "x2": {"datum": 1}, "y": {"datum": 0, "type": "quantitative"}}},
  {"data": {"values": [{}]}, "mark": {"type": "rule", "color": "#222", "strokeWidth": 1.2},
   "encoding": {"x": {"datum": 0, "type": "quantitative"}, "y": {"datum": -7.5e-9, "type": "quantitative"}, "y2": {"datum": 7.5e-9}}},
  {"data": {"values": [{"h": -1}, {"h": -0.75}, {"h": -0.5}, {"h": -0.25}, {"h": 0}, {"h": 0.25}, {"h": 0.5}, {"h": 0.75}, {"h": 1}]},
   "mark": {"type": "tick", "orient": "vertical", "size": 7, "thickness": 1, "color": "#222", "opacity": 1},
   "encoding": {"x": {"field": "h", "type": "quantitative"}, "y": {"datum": 0, "type": "quantitative"}}},
  {"data": {"values": [{"m": -7.5e-9}, {"m": -5e-9}, {"m": -2.5e-9}, {"m": 2.5e-9}, {"m": 5e-9}, {"m": 7.5e-9}]},
   "mark": {"type": "tick", "orient": "horizontal", "size": 8, "thickness": 1, "color": "#222", "opacity": 1},
   "encoding": {"y": {"field": "m", "type": "quantitative"}, "x": {"datum": 0, "type": "quantitative"}}},
  {"data": {"values": [{}]}, "mark": {"type": "text", "text": "C", "fontSize": 29, "align": "left", "baseline": "alphabetic", "dx": -12.5, "dy": -46.6},
   "encoding": {"x": {"datum": -1, "type": "quantitative"}, "y": {"datum": 7.5e-9, "type": "quantitative"}}},
  {"data": {"values": [{}]}, "mark": {"type": "text", "text": "Site KRST3", "fontSize": 21, "align": "center", "baseline": "alphabetic", "dx": 11.9, "dy": -46.6},
   "encoding": {"x": {"datum": 0, "type": "quantitative"}, "y": {"datum": 7.5e-9, "type": "quantitative"}}},
  {"data": {"values": [{}]}, "mark": {"type": "text", "text": ["Mr = 2.678 µemu", "Ms = 5.893 µemu", "Hc = 180 mT", "Hcr = 435 mT"], "fontSize": 15.8, "lineHeight": 17.8, "align": "left", "baseline": "alphabetic", "dx": -7.9, "dy": 14},
   "encoding": {"x": {"datum": -1, "type": "quantitative"}, "y": {"datum": 7.5e-9, "type": "quantitative"}}},
  {"data": {"values": [{}]}, "mark": {"type": "text", "text": "m(emu)", "fontSize": 16, "align": "left", "baseline": "alphabetic", "dx": 5.4, "dy": 5},
   "encoding": {"x": {"datum": 0, "type": "quantitative"}, "y": {"datum": 7.5e-9, "type": "quantitative"}}},
  {"data": {"values": [{}]}, "mark": {"type": "text", "text": "H(T)", "fontSize": 16, "align": "right", "baseline": "alphabetic", "dx": 12.7, "dy": -12},
   "encoding": {"x": {"datum": 1, "type": "quantitative"}, "y": {"datum": 0, "type": "quantitative"}}}
 ]},
 {"width": 418, "height": 310, "layer": [
  {"data": {"name": "D"}, "mark": {"type": "line", "color": "#111", "strokeWidth": 1},
   "encoding": {
    "x": {"field": "h", "type": "quantitative", "scale": {"domain": [-1, 1], "nice": false, "zero": false},
          "axis": {"orient": "bottom", "title": null, "offset": -150, "values": [-1, -0.5, 0, 0.5, 1], "format": ".1f", "labelPadding": 9}},
    "y": {"field": "m", "type": "quantitative", "scale": {"domain": [-1.0973e-8, 1.1705e-8], "nice": false, "zero": false},
          "axis": {"orient": "left", "title": null, "offset": -209, "values": [-1e-8, -5e-9, 5e-9, 1e-8], "labelExpr": "format(datum.value, '~e')", "labelPadding": 7}},
    "detail": {"field": "b"}}},
  {"data": {"values": [{}]}, "mark": {"type": "rule", "color": "#222", "strokeWidth": 1.2},
   "encoding": {"x": {"datum": -1, "type": "quantitative"}, "x2": {"datum": 1}, "y": {"datum": 0, "type": "quantitative"}}},
  {"data": {"values": [{}]}, "mark": {"type": "rule", "color": "#222", "strokeWidth": 1.2},
   "encoding": {"x": {"datum": 0, "type": "quantitative"}, "y": {"datum": -1.0973e-8, "type": "quantitative"}, "y2": {"datum": 1.1705e-8}}},
  {"data": {"values": [{"h": -1}, {"h": -0.75}, {"h": -0.5}, {"h": -0.25}, {"h": 0}, {"h": 0.25}, {"h": 0.5}, {"h": 0.75}, {"h": 1}]},
   "mark": {"type": "tick", "orient": "vertical", "size": 7, "thickness": 1, "color": "#222", "opacity": 1},
   "encoding": {"x": {"field": "h", "type": "quantitative"}, "y": {"datum": 0, "type": "quantitative"}}},
  {"data": {"values": [{"m": -1e-8}, {"m": -5e-9}, {"m": 5e-9}, {"m": 1e-8}]},
   "mark": {"type": "tick", "orient": "horizontal", "size": 8, "thickness": 1, "color": "#222", "opacity": 1},
   "encoding": {"y": {"field": "m", "type": "quantitative"}, "x": {"datum": 0, "type": "quantitative"}}},
  {"data": {"values": [{}]}, "mark": {"type": "text", "text": "D", "fontSize": 29, "align": "left", "baseline": "alphabetic", "dx": -3.7, "dy": -60.6},
   "encoding": {"x": {"datum": -1, "type": "quantitative"}, "y": {"datum": 1e-8, "type": "quantitative"}}},
  {"data": {"values": [{}]}, "mark": {"type": "text", "text": "Site KRST4", "fontSize": 21, "align": "center", "baseline": "alphabetic", "dx": 12.7, "dy": -60},
   "encoding": {"x": {"datum": 0, "type": "quantitative"}, "y": {"datum": 1e-8, "type": "quantitative"}}},
  {"data": {"values": [{}]}, "mark": {"type": "text", "text": ["Mr = 4.827 µemu", "Ms = 9.918 µemu", "Hc = 168 mT", "Hcr = 471 mT"], "fontSize": 15.8, "lineHeight": 17.8, "align": "left", "baseline": "alphabetic", "dx": 0.4, "dy": 0},
   "encoding": {"x": {"datum": -1, "type": "quantitative"}, "y": {"datum": 1e-8, "type": "quantitative"}}},
  {"data": {"values": [{}]}, "mark": {"type": "text", "text": "m(emu)", "fontSize": 16, "align": "left", "baseline": "alphabetic", "dx": 4, "dy": -9},
   "encoding": {"x": {"datum": 0, "type": "quantitative"}, "y": {"datum": 1e-8, "type": "quantitative"}}},
  {"data": {"values": [{}]}, "mark": {"type": "text", "text": "H(T)", "fontSize": 16, "align": "right", "baseline": "alphabetic", "dx": 7.3, "dy": -12},
   "encoding": {"x": {"datum": 1, "type": "quantitative"}, "y": {"datum": 0, "type": "quantitative"}}}
 ]}
]
}
